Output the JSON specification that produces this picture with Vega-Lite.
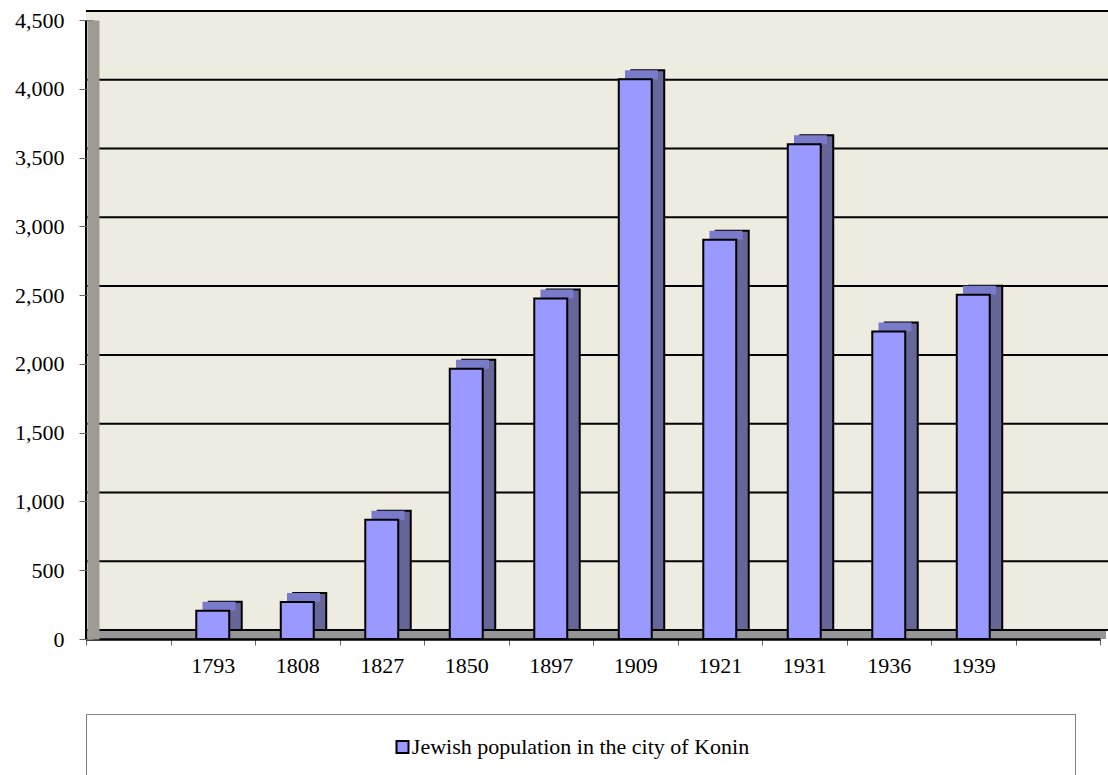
{
  "$schema": "https://vega.github.io/schema/vega-lite/v6.json",
  "autosize": {"type": "pad"},
  "padding": {"left": 14, "top": 9, "right": 0, "bottom": 0},
  "background": "white",
  "config": {"font": "Liberation Serif", "view": {"stroke": null}},
  "datasets": {
    "pop": [
      {"year": "1793", "population": 205},
      {"year": "1808", "population": 269},
      {"year": "1827", "population": 867},
      {"year": "1850", "population": 1964},
      {"year": "1897", "population": 2475},
      {"year": "1909", "population": 4070},
      {"year": "1921", "population": 2902},
      {"year": "1931", "population": 3597},
      {"year": "1936", "population": 2235},
      {"year": "1939", "population": 2502}
    ],
    "grid": [{"v": 0}, {"v": 500}, {"v": 1000}, {"v": 1500}, {"v": 2000}, {"v": 2500}, {"v": 3000}, {"v": 3500}, {"v": 4000}, {"v": 4500}],
    "series": [{"series": "Jewish population in the city of Konin"}]
  },
  "spacing": 37,
  "vconcat": [
    {
      "width": 1014,
      "height": 619,
      "layer": [
        {
          "data": {"name": "series"},
          "mark": {"type": "rect", "color": "#EEEBE0", "xOffset": 12.5, "x2Offset": 12.5, "yOffset": -9, "y2Offset": -9},
          "encoding": {
            "y": {"datum": 4500, "type": "quantitative", "scale": {"domain": [0, 4500], "nice": false}},
            "y2": {"datum": 0}
          }
        },
        {
          "data": {"name": "series"},
          "mark": {"type": "rule", "color": "#969696", "strokeWidth": 9, "yOffset": -4.5, "xOffset": 6, "x2Offset": 6},
          "encoding": {
            "y": {"datum": 0, "type": "quantitative", "scale": {"domain": [0, 4500], "nice": false}}
          }
        },
        {
          "data": {"name": "grid"},
          "mark": {"type": "rule", "color": "black", "strokeWidth": 2, "xOffset": 12.5, "x2Offset": 12.5, "yOffset": -9},
          "encoding": {
            "y": {"field": "v", "type": "quantitative", "scale": {"domain": [0, 4500], "nice": false}}
          }
        },
        {
          "data": {"name": "pop"},
          "mark": {"type": "bar", "color": "#666699", "stroke": "black", "strokeWidth": 2, "width": {"band": 0.39}, "xOffset": 12.5, "yOffset": -9, "y2Offset": -9},
          "encoding": {
            "x": {"field": "year", "type": "nominal", "sort": null,
                  "scale": {"domain": [" ", "1793", "1808", "1827", "1850", "1897", "1909", "1921", "1931", "1936", "1939", "  "], "paddingInner": 0, "paddingOuter": 0},
                  "axis": {"title": null, "labelAngle": 0, "tickBand": "extent", "tickSize": 6, "tickColor": "#666", "tickWidth": 1, "domainColor": "black", "domainWidth": 2.5, "labelPadding": 10, "labelFontSize": 22, "labelFont": "Liberation Serif", "labelColor": "black", "grid": false, "zindex": 1}},
            "y": {"field": "population", "type": "quantitative", "scale": {"domain": [0, 4500], "nice": false},
                  "axis": {"title": null, "values": [0, 500, 1000, 1500, 2000, 2500, 3000, 3500, 4000, 4500], "format": ",d", "offset": -7, "domainWidth": 12, "domainColor": "#9F9B93", "tickSize": 14, "tickColor": "#666", "tickWidth": 1, "labelPadding": 15, "labelFontSize": 22, "labelFont": "Liberation Serif", "labelColor": "black", "grid": false, "zindex": 1}}
          }
        },
        {
          "data": {"name": "pop"},
          "mark": {"type": "tick", "color": "#7B7BCC", "opacity": 1, "thickness": 9, "size": 33, "xOffset": 6.25, "yOffset": -4.5},
          "encoding": {
            "x": {"field": "year", "type": "nominal"},
            "y": {"field": "population", "type": "quantitative"}
          }
        },
        {
          "data": {"name": "pop"},
          "mark": {"type": "bar", "color": "#9999FF", "stroke": "black", "strokeWidth": 2, "width": {"band": 0.39}},
          "encoding": {
            "x": {"field": "year", "type": "nominal"},
            "y": {"field": "population", "type": "quantitative"}
          }
        },
        {
          "data": {"name": "series"},
          "mark": {"type": "rule", "color": "black", "strokeWidth": 2},
          "encoding": {
            "x": {"datum": " ", "type": "nominal", "bandPosition": 0},
            "y": {"datum": 0, "type": "quantitative"},
            "y2": {"datum": 4500}
          }
        }
      ]
    },
    {
      "width": 989,
      "height": 66,
      "view": {"stroke": "#808080", "strokeWidth": 1},
      "data": {"name": "series"},
      "layer": [
        {
          "mark": {"type": "point", "shape": "square", "filled": true, "size": 144, "fill": "#9999FF", "stroke": "black", "strokeWidth": 2, "opacity": 1, "xOffset": -178},
          "encoding": {}
        },
        {
          "mark": {"type": "text", "fontSize": 22, "font": "Liberation Serif", "color": "black", "align": "center", "baseline": "middle"},
          "encoding": {"text": {"field": "series"}}
        }
      ]
    }
  ]
}
